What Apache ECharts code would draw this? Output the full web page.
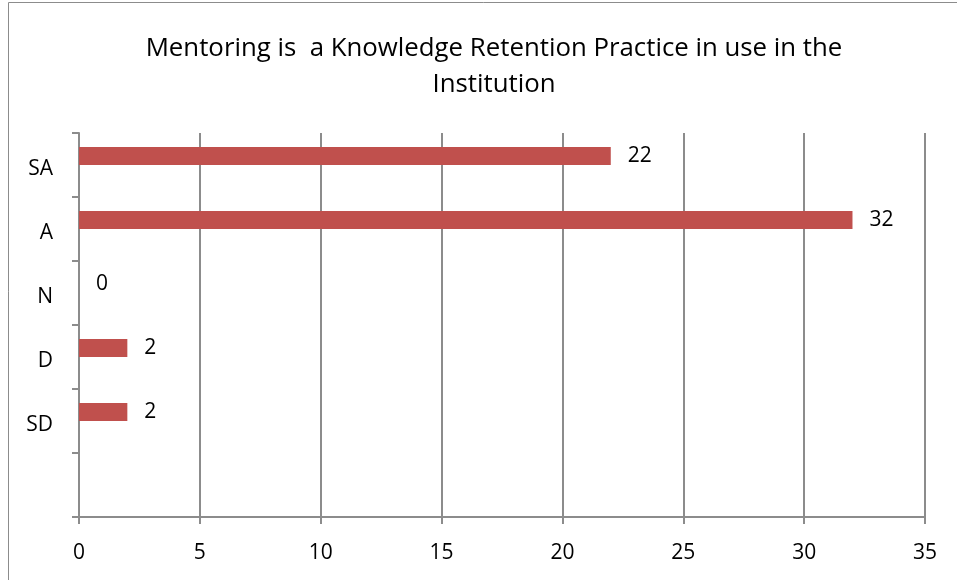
<!DOCTYPE html>
<html>
<head>
<meta charset="utf-8">
<script src="https://cdn.jsdelivr.net/npm/echarts@6/dist/echarts.min.js"></script>
<style>
  html, body { margin: 0; padding: 0; background: #fff; }
  #chart { width: 957px; height: 580px; }
</style>
</head>
<body>
<div id="chart"></div>
<script>
// categories top to bottom, last slot is empty in the original
var categories = ['SA', 'A', 'N', 'D', 'SD', ''];
var counts = [22, 32, 0, 2, 2, null];
var xTicks = { min: 0, max: 35, interval: 5 };
var titleText = 'Mentoring is  a Knowledge Retention Practice in use in the\nInstitution';

var chart = echarts.init(document.getElementById('chart'));
var font = 'Open Sans';

var option = {
    animation: false,
    title: {
        text: titleText,
        left: 489,
        top: 26,
        textAlign: 'center',
        textStyle: {
            fontFamily: font,
            fontSize: 25.8,
            fontWeight: 'normal',
            color: '#000',
            lineHeight: 36
        }
    },
    graphic: [{
        type: 'rect',
        shape: { x: 8.5, y: 2.5, width: 1000, height: 1000 },
        style: { fill: 'none', stroke: '#8c8c8c', lineWidth: 1 },
        silent: true
    }],
    grid: {
        left: 79,
        right: 32,
        top: 133,
        bottom: 63
    },
    xAxis: {
        type: 'value',
        min: xTicks.min,
        max: xTicks.max,
        interval: xTicks.interval,
        axisLine: { show: true, lineStyle: { color: '#8c8c8c', width: 2 } },
        axisTick: { show: true, length: 7, lineStyle: { color: '#8c8c8c', width: 2 } },
        splitLine: { show: true, lineStyle: { color: '#8c8c8c', width: 2 } },
        axisLabel: { color: '#000', fontFamily: font, fontSize: 21, margin: 26 }
    },
    yAxis: {
        type: 'category',
        inverse: true,
        data: categories,
        axisLine: { show: true, lineStyle: { color: '#8c8c8c', width: 2 } },
        axisTick: { show: true, length: 7, alignWithLabel: false, lineStyle: { color: '#8c8c8c', width: 2 } },
        axisLabel: {
            margin: 26,
            formatter: function(v) { return v ? '{c|' + v + '}' : ''; },
            rich: {
                c: { color: '#000', fontFamily: font, fontSize: 21, padding: [8, 0, 0, 0] }
            }
        }
    },
    series: [{
        type: 'bar',
        data: counts,
        barWidth: 18,
        barGap: '0%',
        itemStyle: { color: '#c0504d' },
        label: {
            show: true,
            position: 'right',
            distance: 17,
            color: '#000',
            fontFamily: font,
            fontSize: 21,
            padding: [4, 0, 0, 0]
        }
    }, {
        type: 'bar',
        data: [],
        barWidth: 18,
        barGap: '0%'
    }]
};

chart.setOption(option);
</script>
</body>
</html>
